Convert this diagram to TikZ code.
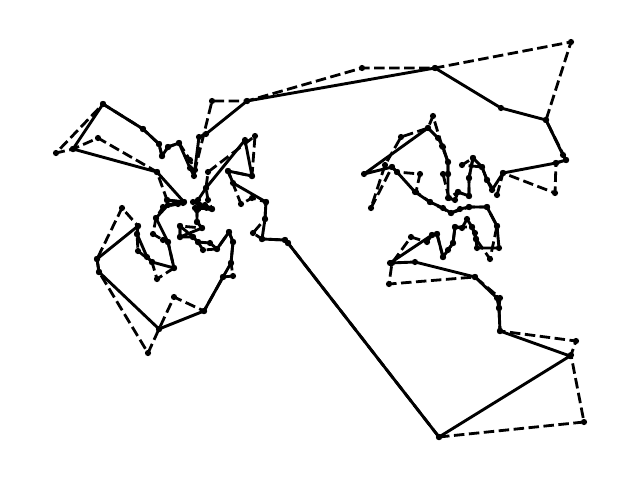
\documentclass[tikz,border=0pt]{standalone}
\tikzset{
  dot/.style={circle,fill=black,draw=none,inner sep=0pt,minimum size=6.2pt},
  tour/.style={line width=2.9pt,line join=round,line cap=round,black},
  alt/.style={line width=2.8pt,line join=round,dash pattern=on 10.5pt off 4.5pt,black}
}
\begin{document}
\begin{tikzpicture}[x=1pt,y=-1pt]
\useasboundingbox (0,0) rectangle (640,480);
% dashed tour
\foreach \x/\y [count=\i] in {439/437,584/422,571/355,576/341,500/331,499/308,500/298,475/277,389/284,392/263,411/237,427/242,432/235,437/234,443/257,453/243,455/227,472/227,476/239,490/259,497/226,487/207,469/207,451/213,430/202,416/192,420/174,397/172,392/167,371/208,385/165,401/137,428/128,433/116,442/146,448/162,448/174,443/174,449/198,458/192,469/196,469/178,473/158,462/165,482/167,487/180,497/195,503/173,555/193,556/163,566/160,546/120,571/42,435/68,362/68,247/101,212/101,195/170,190/160,179/143,168/147,162/156,159/144,143/129,103/104,56/153,73/149,98/138,157/172,167/200,184/202,178/204,163/207,156/218,153/234,163/240,168/242,174/268,157/279,152/262,138/251,137/234,138/226,122/208,97/259,99/272,148/353,159/329,174/297,204/311,223/277,233/276,231/263,233/242,229/232,217/249,203/250,198/242,193/237,180/237,180/226,202/228,197/222,197/210,212/209,208/200,206/188,208/172,255/136,252/176,228/171,241/204,252/198,266/202,265/219,253/233,262/239,285/240,288/243}
  {\node[dot] (d\i) at (\x,\y) {}; \xdef\dcount{\i}}
\draw[alt] (d1.center) foreach \i in {2,...,\dcount} { -- (d\i.center) } -- cycle;
% solid tour
\foreach \x/\y [count=\i] in {288/243,285/240,262/239,265/219,266/202,233/183,228/171,252/176,245/140,206/188,198/200,193/202,200/205,195/208,212/209,205/205,197/210,197/222,202/228,180/237,180/226,193/237,198/242,210/243,217/249,229/232,233/242,231/263,223/277,204/311,159/329,99/272,97/259,138/226,137/234,147/257,152/262,174/268,168/242,156/218,168/205,183/203,167/200,184/202,157/172,73/149,103/104,143/129,159/144,162/156,168/147,179/143,190/168,194/176,199/137,206/134,247/101,435/68,501/108,546/120,563/155,566/160,556/163,503/173,492/190,487/180,482/167,473/158,469/178,469/196,458/192,455/200,448/198,448/174,448/162,443/147,438/138,428/128,364/174,392/167,397/172,415/192,430/202,443/208,451/213,460/209,469/207,487/207,497/226,499/248,477/248,476/239,475/233,472/227,467/219,462/228,455/227,453/243,448/250,443/257,437/234,432/235,390/263,415/262,475/277,497/298,499/308,500/331,570/356,439/437}
  {\node[dot] (s\i) at (\x,\y) {}; \xdef\scount{\i}}
\draw[tour] (s1.center) foreach \i in {2,...,\scount} { -- (s\i.center) } -- cycle;
\end{tikzpicture}
\end{document}
